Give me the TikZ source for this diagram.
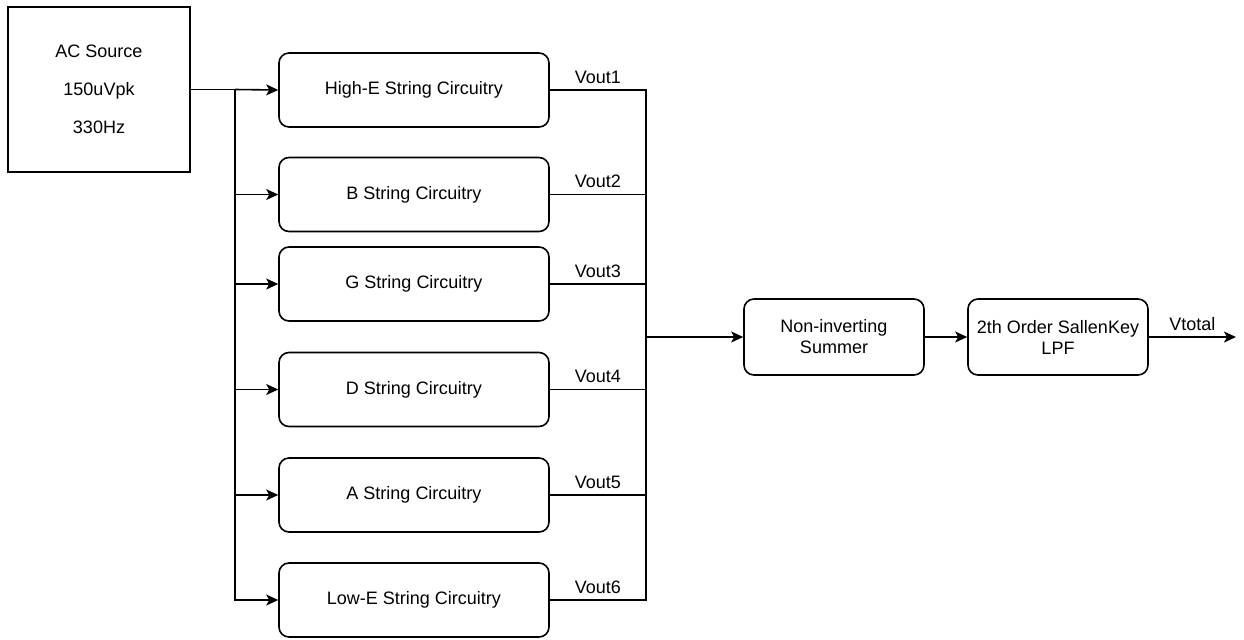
\documentclass[tikz,border=0pt]{standalone}
\usepackage{fontspec}
\setmainfont{Liberation Sans}
\usetikzlibrary{arrows.meta,calc}
\begin{document}
\begin{tikzpicture}[x=0.5pt,y=-0.5pt,
  every node/.style={font=\fontsize{9pt}{10.5pt}\selectfont, text=black},
  wire/.style={line width=0.8pt, draw=black},
  arr/.style={wire, -{Stealth[length=6pt,width=5.5pt,inset=1.5pt]}},
  srcbox/.style={draw, line width=0.8pt, minimum width=91pt, minimum height=82.5pt, align=center, inner sep=0pt},
  rbox/.style={draw, line width=0.8pt, rounded corners=5pt, minimum width=135pt, minimum height=37pt, align=center, inner sep=0pt},
  sbox/.style={draw, line width=0.8pt, rounded corners=5pt, minimum width=90pt, minimum height=38pt, align=center, inner sep=0pt},
  lbl/.style={above, inner sep=3pt}
]
\useasboundingbox (0,0) rectangle (1244,639);

\node[srcbox] (src) at (99,89.5) {AC Source\\[8.5pt]150uVpk\\[8.5pt]330Hz};

\node[rbox] (he) at (414,90) {High-E String Circuitry};
\node[rbox] (b)  at (414,194.5) {B String Circuitry};
\node[rbox] (g)  at (414,284) {G String Circuitry};
\node[rbox] (d)  at (414,389.5) {D String Circuitry};
\node[rbox] (a)  at (414,495) {A String Circuitry};
\node[rbox] (le) at (414,600) {Low-E String Circuitry};

\node[sbox] (sum) at (834,337) {Non-inverting\\Summer};
\node[sbox] (lpf) at (1058,337) {2th Order SallenKey\\LPF};

\coordinate (split) at (235,89.5);
\coordinate (colx) at (646,337);
\coordinate (outend) at (1236,337);

% distribution
\draw[wire] (src.east) -- (split);
\draw[arr] (split) -- (he.west);
\draw[arr] (split) |- (le.west);
\draw[arr] (split |- b.west) -- (b.west);
\draw[arr] (split |- g.west) -- (g.west);
\draw[arr] (split |- d.west) -- (d.west);
\draw[arr] (split |- a.west) -- (a.west);

% collection
\draw[wire] (he.east) -| (colx);
\draw[wire] (le.east) -| (colx);
\draw[wire] (b.east) -- (b.east -| colx);
\draw[wire] (g.east) -- (g.east -| colx);
\draw[wire] (d.east) -- (d.east -| colx);
\draw[wire] (a.east) -- (a.east -| colx);

\path (he.east) -- (he.east -| colx) node[lbl, midway] (v1) {Vout1};
\path (b.east) -- (b.east -| colx) node[lbl, midway] (v2) {Vout2};
\path (g.east) -- (g.east -| colx) node[lbl, midway] (v3) {Vout3};
\path (d.east) -- (d.east -| colx) node[lbl, midway] (v4) {Vout4};
\path (a.east) -- (a.east -| colx) node[lbl, midway] (v5) {Vout5};
\path (le.east) -- (le.east -| colx) node[lbl, midway] (v6) {Vout6};

\draw[arr] (colx) -- (sum.west);
\draw[arr] (sum.east) -- (lpf.west);
\draw[arr] (lpf.east) -- (outend) node[lbl, midway] (vt) {Vtotal};
\end{tikzpicture}
\end{document}
